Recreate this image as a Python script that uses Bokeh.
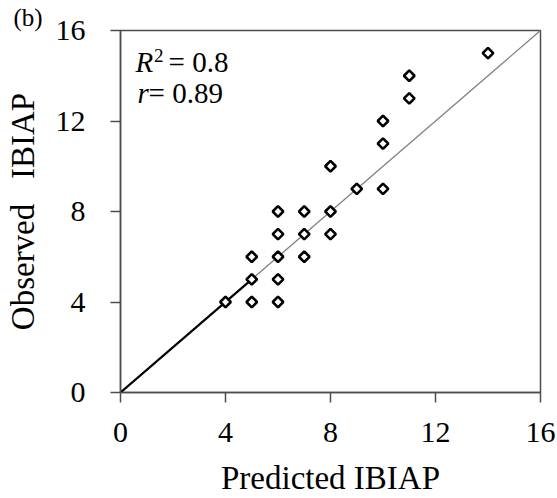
import math
from bokeh.plotting import figure
from bokeh.models import ColumnDataSource, Label, FixedTicker, Range1d
from bokeh.embed import file_html
from bokeh.resources import INLINE

# Data (Predicted vs Observed IBIAP)
predicted = [4, 5, 5, 5, 6, 6, 6, 6, 6, 7, 7, 7, 8, 8, 8, 9, 10, 10, 10, 11, 11, 14]
observed = [4, 4, 5, 6, 4, 5, 6, 7, 8, 6, 7, 8, 7, 8, 10, 9, 9, 11, 12, 13, 14, 15]
one_to_one = [0, 16]
fit_segment = [0, 5]
ticks = [0, 4, 8, 12, 16]
r2_text = "= 0.8"
r_text = "= 0.89"
panel_tag = "(b)"

FONT = "serif"
LFONT = "Liberation Serif"

p = figure(width=557, height=498, output_backend="svg", toolbar_location=None,
           x_range=Range1d(0, 16), y_range=Range1d(0, 16),
           min_border_left=120, min_border_right=17, min_border_top=30, min_border_bottom=106)

p.title.text = panel_tag
p.title.text_font = FONT
p.title.text_font_size = "25px"
p.title.text_font_style = "normal"
p.title.text_color = "black"
p.title.align = "left"
p.title.offset = -107
p.title.standoff = 0
p.title.text_line_height = 1.0

p.xgrid.visible = False
p.ygrid.visible = False
p.outline_line_color = "#4d4d4d"
p.outline_line_width = 1.5

for ax in (p.xaxis[0], p.yaxis[0]):
    ax.ticker = FixedTicker(ticks=ticks)
    ax.minor_tick_line_color = None
    ax.major_tick_in = 0
    ax.major_tick_out = 10
    ax.axis_line_color = "#4d4d4d"
    ax.axis_line_width = 1.5
    ax.major_tick_line_color = "#4d4d4d"
    ax.major_tick_line_width = 1.5
    ax.major_label_text_font = FONT
    ax.major_label_text_font_size = "30px"
    ax.major_label_text_color = "black"
    ax.axis_label_text_font = FONT
    ax.axis_label_text_font_size = "33px"
    ax.axis_label_text_font_style = "normal"
    ax.axis_label_text_color = "black"

p.xaxis.axis_label = "Predicted IBIAP"
p.yaxis.axis_label = "Observed\u00a0\u00a0 IBIAP"
p.xaxis.major_label_standoff = 20
p.yaxis.major_label_standoff = 25
p.xaxis.axis_label_standoff = 15
p.yaxis.axis_label_standoff = 12

p.line(one_to_one, one_to_one, line_color="#808080", line_width=1.3)
p.line(fit_segment, fit_segment, line_color="black", line_width=2.2)

src = ColumnDataSource(dict(x=predicted, y=observed))
p.scatter("x", "y", source=src, marker="square", size=7.5, angle=math.pi / 4,
          fill_color="white", line_color="black", line_width=2.6)

p.add_layout(Label(x=0.57, y=13.92, text="R", text_font=LFONT, text_font_size="29px",
                   text_font_style="italic", text_color="black"))
p.add_layout(Label(x=1.28, y=14.62, text="2", text_font=LFONT, text_font_size="19px",
                   text_color="black"))
p.add_layout(Label(x=1.83, y=13.92, text=r2_text, text_font=LFONT, text_font_size="29px",
                   text_color="black"))
p.add_layout(Label(x=0.65, y=12.55, text="r", text_font=LFONT, text_font_size="29px",
                   text_font_style="italic", text_color="black"))
p.add_layout(Label(x=1.07, y=12.55, text=r_text, text_font=LFONT, text_font_size="29px",
                   text_color="black"))

open("out.html", "w").write(file_html(p, INLINE))
